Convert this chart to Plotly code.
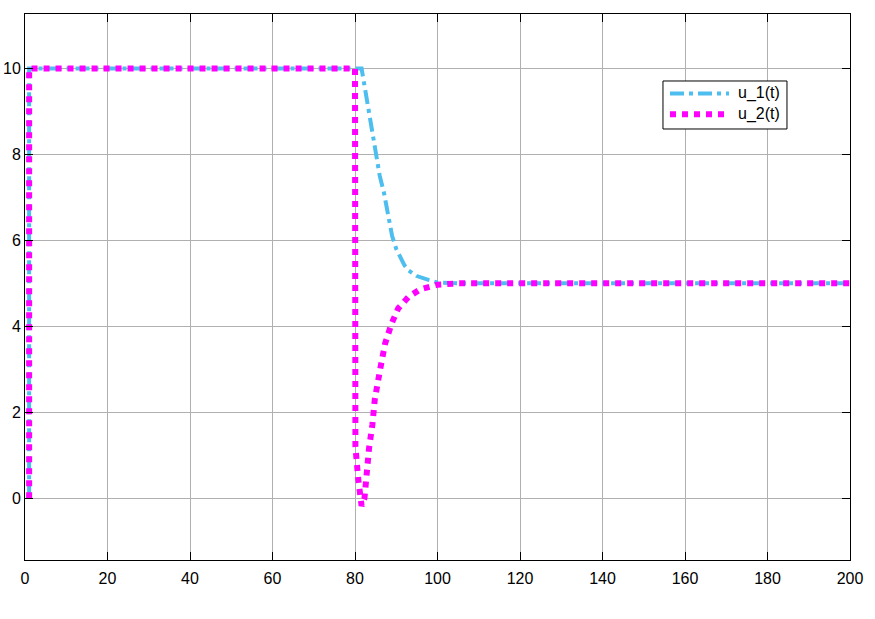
import plotly.graph_objects as go

# u_1(t) samples
u1_t = [1, 1, 81.6, 83, 84, 85, 86, 87, 88, 89, 90, 91, 92, 93, 95, 97.8, 100, 105, 200]
u1_v = [0, 10, 10, 9.2, 8.6, 8.05, 7.5, 7.12, 6.55, 6.1, 5.8, 5.6, 5.42, 5.3, 5.17, 5.08, 5.02, 5.0, 5.0]

# u_2(t) samples
u2_t = [1, 1, 80, 80.1, 80.8, 81.6, 82.3, 82.8, 83.4, 84.2, 84.8, 86.1, 87.3, 88.9, 90.5, 92.9, 95.8, 100, 105, 200]
u2_v = [0, 10, 10, 1.2, 0.43, -0.18, 0.0, 0.62, 1.16, 1.7, 2.3, 3.0, 3.6, 4.07, 4.42, 4.68, 4.86, 4.97, 5.0, 5.0]

series_names = ["u_1(t)", "u_2(t)"]
x_ticks = [0, 20, 40, 60, 80, 100, 120, 140, 160, 180, 200]
y_ticks = [0, 2, 4, 6, 8, 10]

C1, C2 = "#4DBEEE", "#FF00FF"
D1, D2 = "14px,5px,4px,5px", "6px,6px"

fig = go.Figure()
fig.add_trace(go.Scatter(x=u1_t, y=u1_v, mode="lines", name=series_names[0],
                         line=dict(color=C1, width=4, dash=D1), showlegend=False))
fig.add_trace(go.Scatter(x=u2_t, y=u2_v, mode="lines", name=series_names[1],
                         line=dict(color=C2, width=6, dash=D2), showlegend=False))

font = dict(family="Arial, Liberation Sans, sans-serif", size=16, color="black")
axis_common = dict(showline=True, linecolor="black", linewidth=1, mirror="ticks",
                   ticks="inside", ticklen=8, tickcolor="black", tickwidth=1,
                   showgrid=True, gridcolor="#b0b0b0", gridwidth=1, zeroline=False,
                   tickfont=font, automargin=False)

# Manual legend (MATLAB-style box with long line samples)
fig.add_shape(type="rect", xref="paper", yref="paper", x0=0.7733, x1=0.9236, y0=0.7894, y1=0.8773,
              line=dict(color="black", width=1), fillcolor="white", layer="above")
fig.add_shape(type="line", xref="paper", yref="paper", x0=0.7818, x1=0.8533, y0=0.8544, y1=0.8544,
              line=dict(color=C1, width=4, dash=D1), layer="above")
fig.add_shape(type="line", xref="paper", yref="paper", x0=0.7818, x1=0.8533, y0=0.8163, y1=0.8163,
              line=dict(color=C2, width=6, dash=D2), layer="above")
fig.add_annotation(xref="paper", yref="paper", x=0.862, y=0.8544, text=series_names[0],
                   showarrow=False, xanchor="left", yanchor="middle", font=font)
fig.add_annotation(xref="paper", yref="paper", x=0.862, y=0.8163, text=series_names[1],
                   showarrow=False, xanchor="left", yanchor="middle", font=font)

fig.update_layout(
    width=875, height=619,
    margin=dict(l=25, r=25, t=14, b=59),
    paper_bgcolor="white", plot_bgcolor="white",
    font=font,
    xaxis=dict(range=[0, 200], tickvals=x_ticks, ticklabelstandoff=4, **axis_common),
    yaxis=dict(range=[-1.44, 11.27], tickvals=y_ticks, **axis_common),
    showlegend=False,
)

fig.write_html("out.html", post_script="document.body.style.margin='0px';",
               config={"displayModeBar": False})
